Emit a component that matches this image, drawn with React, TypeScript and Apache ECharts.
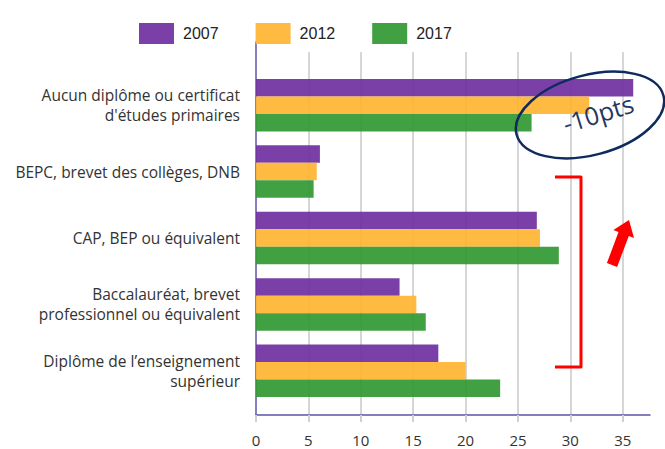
import React, { useEffect, useRef } from "react";
import * as echarts from "echarts";

const categories = [
  "Aucun diplôme ou certificat\nd'études primaires",
  "BEPC, brevet des collèges, DNB",
  "CAP, BEP ou équivalent",
  "Baccalauréat, brevet\nprofessionnel ou équivalent",
  "Diplôme de l’enseignement\nsupérieur",
];
const years = ["2007", "2012", "2017"];
const values2007 = [36.0, 6.1, 26.8, 13.7, 17.4];
const values2012 = [31.8, 5.8, 27.1, 15.3, 20.0];
const values2017 = [26.3, 5.5, 28.9, 16.2, 23.3];
const tickValues = [0, 5, 10, 15, 20, 25, 30, 35];
const colors = ["#7132A0", "#FFB534", "#339A34"];

const X_MAX = 37.6;

export default function App() {
  const ref = useRef<HTMLDivElement>(null);
  useEffect(() => {
    if (!ref.current) return;
    const chart = echarts.init(ref.current, undefined, { renderer: "svg" });
    const seriesValues = [values2007, values2012, values2017];
    const font = "'Open Sans', sans-serif";
    chart.setOption({
      animation: false,
      legend: {
        data: years,
        left: 134,
        top: 18,
        itemWidth: 35,
        itemHeight: 21,
        itemGap: 37,
        icon: "rect",
        textStyle: {
          fontFamily: "'Liberation Sans', Arial, sans-serif",
          fontSize: 16,
          color: "#222",
          padding: [0, 0, 0, 4],
        },
      },
      grid: [
        { left: 256, right: 15, top: 52, bottom: 34 },
        { left: 256, right: 15, top: 42, bottom: 34 },
        { left: 256, right: 15, top: 72, bottom: 45 },
      ],
      xAxis: [
        {
          gridIndex: 0,
          type: "value",
          min: 0,
          max: X_MAX,
          interval: 5,
          axisLine: { show: true, lineStyle: { color: "#5b55a8", width: 1.5 } },
          axisTick: { show: true, length: 7, lineStyle: { color: "#d0d0d0", width: 2 }, customValues: tickValues },
          axisLabel: {
            customValues: tickValues,
            color: "#333",
            fontFamily: font,
            fontSize: 15,
            margin: 17,
          },
          splitLine: { show: true, showMinLine: false, lineStyle: { color: "#d6d6d6", width: 2 } },
        },
        { gridIndex: 1, type: "value", min: 0, max: X_MAX, show: false },
        { gridIndex: 2, type: "value", min: 0, max: X_MAX, show: false },
      ],
      yAxis: [
        { gridIndex: 0, type: "value", show: false },
        {
          gridIndex: 1,
          type: "value",
          axisLine: { show: true, lineStyle: { color: "#5b55a8", width: 1.5 } },
          axisTick: { show: false },
          axisLabel: { show: false },
          splitLine: { show: false },
        },
        {
          gridIndex: 2,
          type: "category",
          data: categories,
          inverse: true,
          axisLine: { show: false },
          axisTick: { show: false },
          axisLabel: {
            color: "#333",
            fontFamily: font,
            fontSize: 15.5,
            lineHeight: 20,
            margin: 16,
            align: "right",
          },
        },
      ],
      series: years.map((y, i) => ({
        name: y,
        type: "bar",
        xAxisIndex: 2,
        yAxisIndex: 2,
        data: seriesValues[i],
        barGap: "0%",
        barCategoryGap: "21%",
        itemStyle: { color: colors[i], opacity: 0.93 },
      })),
      graphic: [
        {
          type: "ellipse",
          x: 590,
          y: 115,
          rotation: 0.26,
          shape: { cx: 0, cy: 0, rx: 76, ry: 40 },
          style: { fill: "none", stroke: "#0E2A5E", lineWidth: 2.5 },
          z: 10,
        },
        {
          type: "text",
          x: 598,
          y: 113,
          rotation: 0.3,
          style: {
            text: "-10pts",
            fill: "#1F3864",
            font: "25px 'Open Sans', sans-serif",
            align: "center",
            verticalAlign: "middle",
          },
          z: 10,
        },
        {
          type: "polyline",
          shape: { points: [[555, 177], [581, 177], [581, 367], [555, 367]] },
          style: { fill: "none", stroke: "#FF0000", lineWidth: 3, lineJoin: "round" },
          z: 10,
        },
        {
          type: "polygon",
          shape: {
            points: [
              [617.1, 266.9],
              [628.8, 236.0],
              [634.0, 237.9],
              [629, 220],
              [613.4, 230.1],
              [618.5, 232.0],
              [606.9, 263.1],
            ],
          },
          style: { fill: "#FF0000" },
          z: 10,
        },
      ],
    });
    return () => chart.dispose();
  }, []);
  return (
    <div
      ref={ref}
      style={{ position: "fixed", left: 0, top: 0, width: 665, height: 449, background: "#fff" }}
    />
  );
}
